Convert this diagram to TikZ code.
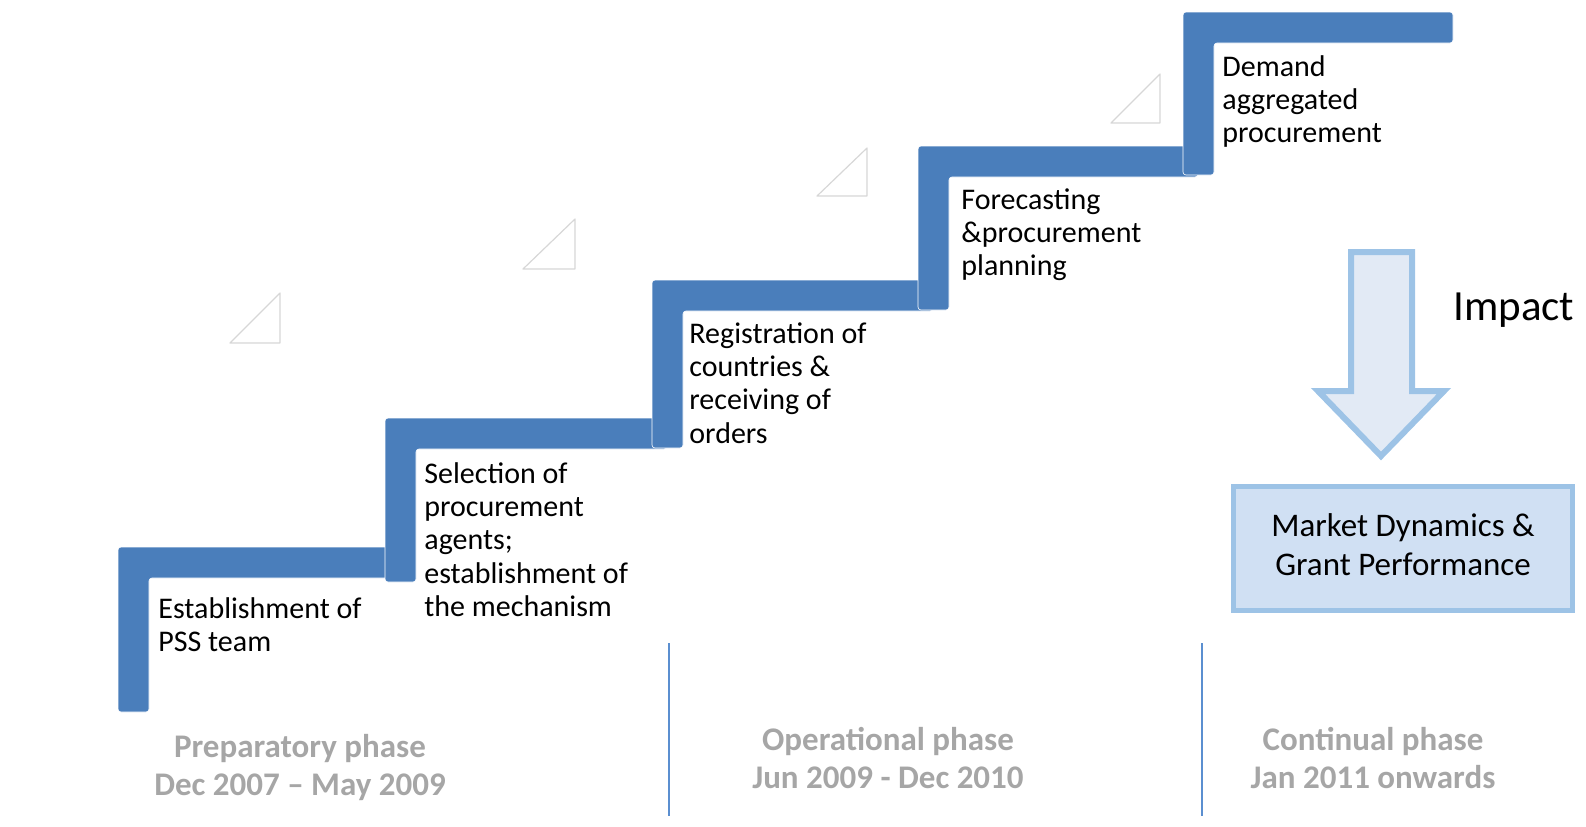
\documentclass[tikz,border=0pt]{standalone}
\usepackage{fontspec}
\setmainfont{Carlito}
\definecolor{stepblue}{RGB}{74,126,187}
\definecolor{sepblue}{RGB}{91,143,208}
\definecolor{boxline}{RGB}{157,195,230}
\definecolor{boxfill}{RGB}{208,224,243}
\definecolor{arrowfill}{RGB}{226,234,245}
\definecolor{phasegray}{RGB}{166,166,166}
\definecolor{triline}{RGB}{215,215,215}
\tikzset{
  stair/.style={fill=stepblue, draw=white, line width=0.3pt, rounded corners=1.5pt},
  steptext/.style={anchor=base west, inner sep=0pt, font=\fontsize{15}{16.7}\selectfont},
  phasetext/.style={anchor=base, inner sep=0pt, text=phasegray, font=\bfseries\fontsize{16.5}{19.2}\selectfont},
  sepline/.style={draw=sepblue, line width=1pt},
  tri/.style={draw=triline, fill=white, line width=0.6pt, line join=round},
  impactbox/.style={draw=boxline, fill=boxfill, line width=2.5pt, minimum width=169.5pt, minimum height=62pt, inner sep=0pt, font=\fontsize{16.5}{19.75}\selectfont},
  blockarrow/.style={draw=boxline, fill=arrowfill, line width=3pt, miter limit=10}
}
\begin{document}
\begin{tikzpicture}[x=0.5pt,y=-0.5pt]
\useasboundingbox (0,0) rectangle (1586,826);

% decorative triangles
\path[tri] (230,343) -- (280,293) -- (280,343) -- cycle;
\path[tri] (523,269) -- (575,219) -- (575,269) -- cycle;
\path[tri] (817,196) -- (867,148) -- (867,196) -- cycle;
\path[tri] (1111,123) -- (1160,74) -- (1160,123) -- cycle;

% staircase
\path[stair] (118,712) -- (118,547) -- (400,547) -- (400,578) -- (149,578) -- (149,712) -- cycle;
\path[stair] (385,582) -- (385,418) -- (667,418) -- (667,449) -- (416,449) -- (416,582) -- cycle;
\path[stair] (652,448) -- (652,280) -- (933,280) -- (933,311) -- (683,311) -- (683,448) -- cycle;
\path[stair] (918,310) -- (918,146) -- (1198,146) -- (1198,177) -- (949,177) -- (949,310) -- cycle;
\path[stair] (1183,175) -- (1183,12) -- (1453,12) -- (1453,43) -- (1214,43) -- (1214,175) -- cycle;

% step texts
\node[steptext] (s1) at (158,618) {\begin{tabular}[t]{@{}l@{}}Establishment of\\PSS team\end{tabular}};
\node[steptext] (s2) at (424,483) {\begin{tabular}[t]{@{}l@{}}Selection of\\procurement\\agents;\\establishment of\\the mechanism\end{tabular}};
\node[steptext] (s3) at (689,343) {\begin{tabular}[t]{@{}l@{}}Registration of\\countries \&\\receiving of\\orders\end{tabular}};
\node[steptext] (s4) at (961,209) {\begin{tabular}[t]{@{}l@{}}Forecasting\\\&procurement\\planning\end{tabular}};
\node[steptext] (s5) at (1222,76) {\begin{tabular}[t]{@{}l@{}}Demand\\aggregated\\procurement\end{tabular}};

% phase separators
\coordinate (sepAtop) at (669,643);
\coordinate (sepAbot) at (669,816);
\coordinate (sepBtop) at (1202,643);
\coordinate (sepBbot) at (1202,816);
\draw[sepline] (sepAtop) -- (sepAbot);
\draw[sepline] (sepBtop) -- (sepBbot);

% phase labels
\node[phasetext] (p1) at (300,757) {\begin{tabular}[t]{@{}c@{}}Preparatory phase\\Dec 2007 – May 2009\end{tabular}};
\node[phasetext] (p2) at (888,750) {\begin{tabular}[t]{@{}c@{}}Operational phase\\Jun 2009 - Dec 2010\end{tabular}};
\node[phasetext] (p3) at (1373,750) {\begin{tabular}[t]{@{}c@{}}Continual phase\\Jan 2011 onwards\end{tabular}};

% impact arrow
\path[blockarrow] (1351,252) -- (1412,252) -- (1412,391) -- (1444,391) -- (1381,456) -- (1318,391) -- (1351,391) -- cycle;
\node[anchor=base west, inner sep=0pt, font=\fontsize{21.5}{25}\selectfont] (impact) at (1453,320) {Impact};

% result box
\node[impactbox] (result) at (1403,548) {\raisebox{3.5pt}{\begin{tabular}{@{}c@{}}Market Dynamics \&\\Grant Performance\end{tabular}}};
\end{tikzpicture}
\end{document}
